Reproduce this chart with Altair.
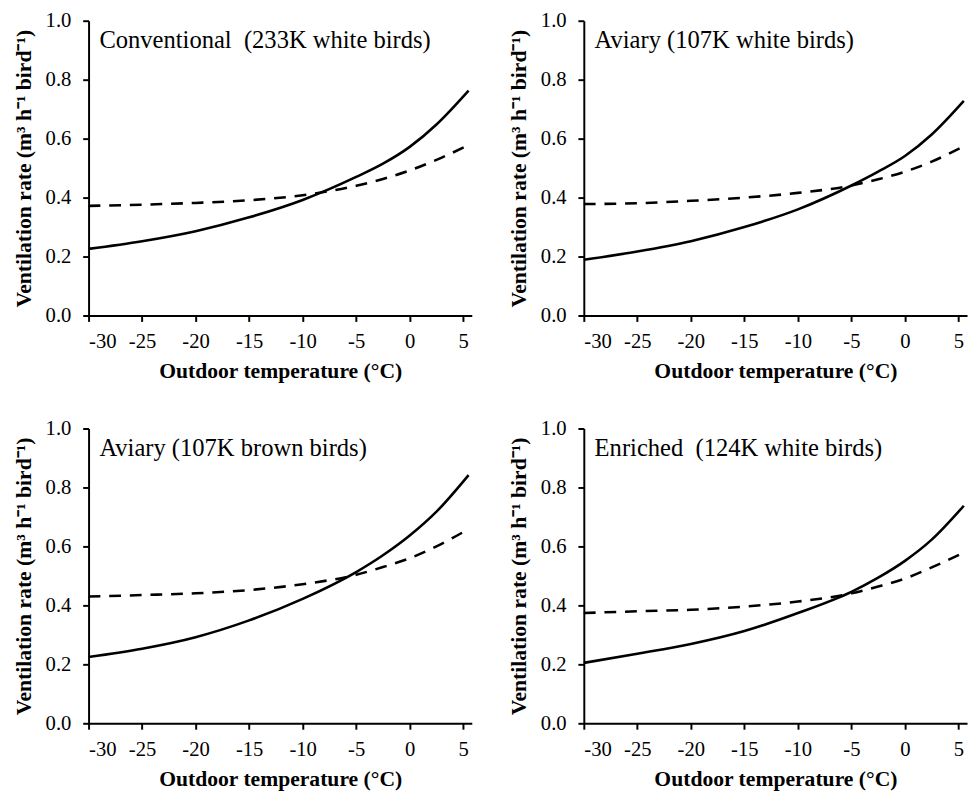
import altair as alt
import pandas as pd

# Outdoor temperature points (°C) at which curves were read
temps = [-30, -25, -20, -15, -10, -5, -2.5, 0, 2.5, 5.5]

titles = [
    "Conventional\u00a0 (233K white birds)",
    "Aviary (107K white birds)",
    "Aviary (107K brown birds)",
    "Enriched\u00a0 (124K white birds)",
]

# Solid curves (m3 h-1 bird-1)
solid_conv = [0.226, 0.252, 0.286, 0.333, 0.392, 0.470, 0.515, 0.572, 0.648, 0.763]
solid_avw = [0.189, 0.217, 0.252, 0.300, 0.360, 0.441, 0.488, 0.541, 0.614, 0.728]
solid_avb = [0.225, 0.253, 0.292, 0.349, 0.422, 0.513, 0.570, 0.637, 0.718, 0.842]
solid_enr = [0.205, 0.236, 0.269, 0.313, 0.374, 0.446, 0.494, 0.551, 0.623, 0.738]

# Dashed curves
dash_conv = [0.372, 0.376, 0.382, 0.391, 0.408, 0.440, 0.463, 0.492, 0.528, 0.578]
dash_avw = [0.378, 0.381, 0.389, 0.400, 0.416, 0.441, 0.462, 0.488, 0.522, 0.574]
dash_avb = [0.430, 0.435, 0.441, 0.452, 0.472, 0.504, 0.530, 0.560, 0.600, 0.659]
dash_enr = [0.374, 0.380, 0.385, 0.396, 0.413, 0.441, 0.464, 0.491, 0.529, 0.579]

solids = [solid_conv, solid_avw, solid_avb, solid_enr]
dashes = [dash_conv, dash_avw, dash_avb, dash_enr]

x_ticks = [-30, -25, -20, -15, -10, -5, 0, 5]
y_ticks = [0.0, 0.2, 0.4, 0.6, 0.8, 1.0]

FONT = "Liberation Serif"
W, H = 390, 300


def panel(i):
    df = pd.DataFrame({
        "t": temps * 2,
        "v": solids[i] + dashes[i],
        "s": ["solid"] * len(temps) + ["dashed"] * len(temps),
    })
    x = alt.X("t:Q", scale=alt.Scale(domain=[-30, 5.8], nice=False, zero=False),
              axis=alt.Axis(values=x_ticks, title="Outdoor temperature (°C)",
                            labelExpr="replace(datum.label, '−', '-')"))
    y = alt.Y("v:Q", scale=alt.Scale(domain=[0, 1], nice=False),
              axis=alt.Axis(values=y_ticks, format=".1f",
                            title="Ventilation rate (m³ h⁻¹ bird⁻¹)"))
    solid = alt.Chart(df).transform_filter(alt.datum.s == "solid").mark_line(
        color="black", strokeWidth=2.6, interpolate="monotone").encode(x=x, y=y)
    dashed = alt.Chart(df).transform_filter(alt.datum.s == "dashed").mark_line(
        color="black", strokeWidth=2.6, interpolate="monotone",
        strokeDash=[12, 9]).encode(x=x, y=y)
    label = alt.Chart(pd.DataFrame({"lab": [titles[i]]})).mark_text(
        align="left", baseline="alphabetic", font=FONT, fontSize=25, color="black"
    ).encode(x=alt.value(11), y=alt.value(28), text="lab:N")
    return alt.layer(dashed, solid, label).properties(width=W, height=H)


chart = alt.concat(
    panel(0), panel(1), panel(2), panel(3), columns=2,
    spacing={"row": 37, "column": 34},
).properties(
    padding={"left": 4, "top": -5, "right": 0, "bottom": -2}
).configure_view(stroke=None).configure_axis(
    grid=False,
    domainColor="black", domainWidth=2,
    tickColor="black", tickWidth=2, tickSize=6,
    labelFont=FONT, labelFontSize=21, labelColor="black",
    titleFont=FONT, titleFontSize=22, titleFontWeight="bold", titleColor="black",
).configure_axisX(labelPadding=10, titlePadding=9).configure_axisY(
    labelPadding=12, titlePadding=10
)

chart.save("out.html", embed_options={"renderer": "svg", "actions": False})
